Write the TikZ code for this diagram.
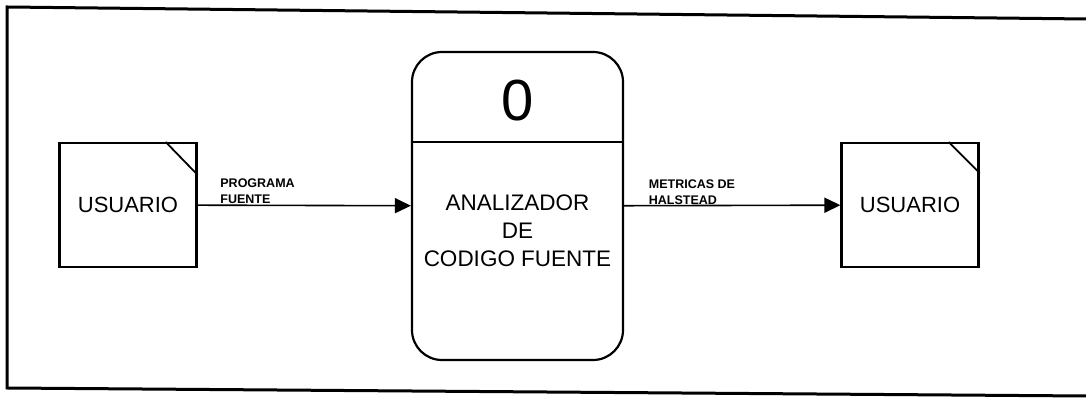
\documentclass[tikz,border=0pt]{standalone}
\usepackage{fontspec}
\setmainfont{Liberation Sans}
\usetikzlibrary{positioning,calc,arrows.meta}

\begin{document}
\begin{tikzpicture}
                    [x=1pt,y=1pt,>={Triangle[length=16pt,width=15pt]},
                    entidad/.style={draw,line width=2.2pt,minimum width=137pt,minimum height=124pt,inner sep=0pt,font=\fontsize{22}{26}\selectfont},
                    proceso/.style={draw,line width=2.2pt,rounded corners=30pt,minimum width=211pt,minimum height=308pt,inner sep=0pt},
                    flujo/.style={align=left,font=\bfseries\fontsize{12.5}{16}\selectfont,inner sep=0pt,anchor=south west},
                    pliegue/.style={line width=1.8pt}]

                \useasboundingbox (0,0) rectangle (1086,398);

                % marco
                \draw[line width=3pt] (1086,379) -- (7,391) -- (7,10) -- (1086,2);

                \node[entidad] (usrin) at (128,193) {USUARIO};
                \node[proceso] (proc) at (517.5,192) {};
                \node[entidad] (usrout) at (910,193) {USUARIO};

                \draw[pliegue] ($(usrin.north east)+(-32,0)$) -- ($(usrin.north east)+(0,-33)$);
                \draw[pliegue] ($(usrout.north east)+(-31,0)$) -- ($(usrout.north east)+(0,-31)$);

                    \coordinate (div) at ($(proc.north)+(0,-91)$);
                    \draw[line width=1.8pt] (proc.west |- div) -- (proc.east |- div);
                    \node[font=\fontsize{58}{58}\selectfont] (num) at ($(proc.north)!0.5!(div)+(0,-4)$) {0};
                    \node[align=center,font=\fontsize{22.5}{28}\selectfont] (nombre) at ($(proc.center)+(0,-25)$) {ANALIZADOR\\DE\\CODIGO FUENTE};

                \draw[->,line width=1.6pt] (usrin) -- (proc) node[flujo] at ($(usrin.east)+(22,1)$) {PROGRAMA\\FUENTE};
                \draw[->,line width=1.6pt] (proc) -- (usrout) node[flujo] at ($(proc.east)+(24,1)$) {METRICAS DE\\HALSTEAD};

                \end{tikzpicture}
\end{document}
